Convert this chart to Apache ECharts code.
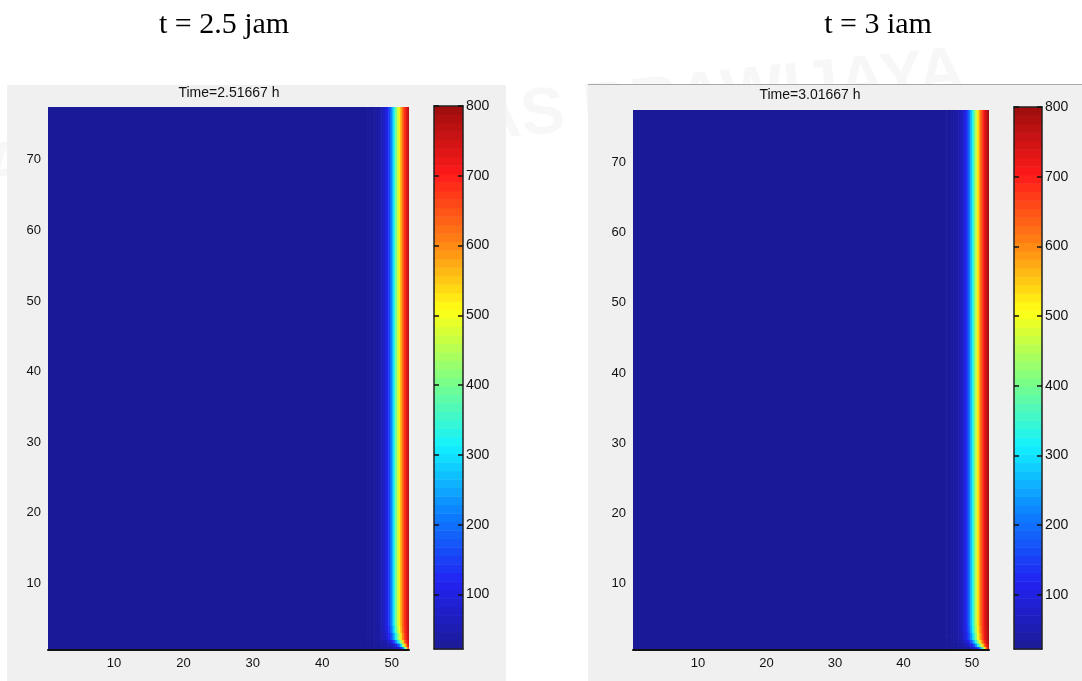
<!DOCTYPE html>
<html>
<head>
<meta charset="utf-8">
<script src="https://cdn.jsdelivr.net/npm/echarts@6/dist/echarts.min.js"></script>
<style>
  html, body { margin: 0; padding: 0; background: #fff; }
  #chart { width: 1082px; height: 681px; }
</style>
</head>
<body>
<div id="chart"></div>
<script>
// grid extent (cell centres 1..52 and 1..77)
const xMin = 0.5, xMax = 52.5, yMin = 0.5, yMax = 77.5;

// fine columns near the hot wall, left edge of each column
const xCols = [46, 46.25, 46.5, 46.75, 47, 47.25, 47.5, 47.75, 48, 48.25, 48.5, 48.75, 49,
  49.25, 49.5, 49.75, 50, 50.25, 50.5, 50.75, 51, 51.25, 51.5, 51.75, 52, 52.25];
const colWidth = 0.25;
// horizontal bands, bottom to top
const yBands = [[0.5, 1], [1, 1.5], [1.5, 2], [2, 3], [3, 4], [4, 77.5]];

// value of the cold region left of the strip
const baseValues = [24, 25];

// t = 2.5 jam, rows follow yBands
const field1 = [
  [24, 24, 24, 24, 25, 25, 25, 26, 26, 27, 28, 29, 30, 32, 34, 37, 40, 48, 58, 72, 90, 130, 200, 330, 480, 650],
  [24, 24, 24, 25, 25, 26, 26, 27, 28, 30, 32, 35, 38, 42, 48, 56, 66, 80, 105, 150, 210, 300, 420, 530, 620, 720],
  [24, 24, 25, 25, 26, 27, 28, 30, 32, 35, 39, 45, 52, 62, 76, 95, 125, 170, 230, 300, 370, 450, 540, 620, 690, 750],
  [24, 25, 25, 26, 27, 28, 30, 33, 37, 42, 50, 60, 74, 92, 118, 155, 205, 265, 330, 400, 465, 535, 600, 660, 710, 765],
  [24, 25, 26, 27, 28, 30, 32, 35, 39, 46, 55, 68, 85, 108, 140, 185, 240, 310, 380, 445, 505, 570, 625, 675, 720, 770],
  [24, 25, 26, 27, 28, 30, 32, 35, 40, 48, 58, 72, 90, 115, 150, 200, 260, 330, 400, 460, 520, 580, 630, 680, 720, 770]
];
// t = 3 jam
const field2 = [
  [25, 25, 25, 26, 26, 27, 27, 28, 29, 30, 32, 34, 37, 41, 47, 55, 66, 82, 105, 145, 200, 280, 390, 510, 630, 740],
  [25, 25, 26, 26, 27, 28, 29, 31, 33, 36, 40, 46, 54, 65, 80, 100, 130, 175, 235, 310, 390, 470, 550, 630, 700, 765],
  [25, 26, 26, 27, 28, 30, 32, 35, 39, 45, 53, 64, 80, 100, 130, 170, 220, 285, 355, 425, 500, 570, 635, 690, 740, 780],
  [25, 26, 27, 28, 29, 32, 35, 39, 45, 54, 66, 82, 104, 135, 175, 228, 290, 355, 420, 490, 555, 615, 670, 712, 752, 785],
  [25, 26, 27, 28, 30, 33, 36, 41, 48, 58, 71, 89, 113, 148, 195, 255, 320, 385, 450, 515, 575, 632, 680, 720, 757, 788],
  [25, 26, 27, 28, 30, 33, 37, 42, 50, 60, 74, 92, 118, 155, 205, 265, 330, 395, 460, 525, 585, 640, 685, 725, 760, 790]
];

const headTexts = ['t = 2.5 jam', 't = 3 iam'];
const panelTitles = ['Time=2.51667 h', 'Time=3.01667 h'];
const xTicks = [10, 20, 30, 40, 50];
const yTicks = [10, 20, 30, 40, 50, 60, 70];
const cbTicks = [100, 200, 300, 400, 500, 600, 700, 800];
const cbMin = 22, cbMax = 800;
const cbSteps = 64;

// jet colormap
const jetStops = ['#1a1a96', '#2222f2', '#0c80ff', '#12f2ff', '#82ff80', '#ffff14', '#ff8214', '#ff1a1a', '#9c0d0d'];
function hexRgb(h) {
  return [parseInt(h.substr(1, 2), 16), parseInt(h.substr(3, 2), 16), parseInt(h.substr(5, 2), 16)];
}
const jetRgb = jetStops.map(hexRgb);
function jet(v) {
  let f = (v - cbMin) / (cbMax - cbMin);
  f = Math.max(0, Math.min(1, f)) * (jetRgb.length - 1);
  const i = Math.min(Math.floor(f), jetRgb.length - 2);
  const t = f - i;
  const a = jetRgb[i], b = jetRgb[i + 1];
  const c = a.map((x, k) => Math.round(x + (b[k] - x) * t));
  return 'rgb(' + c.join(',') + ')';
}

function buildCells(field, base) {
  const cells = [[xMin, xCols[0], yMin, yMax, base]];
  field.forEach((row, r) => {
    row.forEach((v, i) => {
      cells.push([xCols[i], xCols[i] + colWidth, yBands[r][0], yBands[r][1], v]);
    });
  });
  return cells;
}

function cellItem(params, api) {
  const a = api.coord([api.value(0), api.value(3)]);
  const b = api.coord([api.value(1), api.value(2)]);
  const edge = api.coord([xMax, yMin]);
  const right = Math.min(b[0] + 0.6, edge[0]);
  const bottom = Math.min(b[1] + 0.6, edge[1]);
  return {
    type: 'rect',
    shape: { x: a[0], y: a[1], width: right - a[0], height: bottom - a[1] },
    style: { fill: jet(api.value(4)) }
  };
}

const cbLevels = [];
for (let k = 0; k < cbSteps; k++) {
  const lo = cbMin + k * (cbMax - cbMin) / cbSteps;
  const hi = cbMin + (k + 1) * (cbMax - cbMin) / cbSteps;
  cbLevels.push([lo, hi, (lo + hi) / 2]);
}

function barItem(params, api) {
  const a = api.coord([0, api.value(1)]);
  const b = api.coord([1, api.value(0)]);
  return {
    type: 'rect',
    shape: { x: a[0], y: a[1], width: b[0] - a[0], height: b[1] - a[1] + 0.5 },
    style: { fill: jet(api.value(2)) }
  };
}

const labelFont = { color: '#111', fontFamily: 'Liberation Sans, Arial, sans-serif', fontSize: 13 };

function plotX(grid) {
  return {
    type: 'value', gridIndex: grid, min: xMin, max: xMax, z: 10,
    axisLine: { show: true, lineStyle: { color: '#111', width: 2 } },
    axisTick: { show: false },
    splitLine: { show: false },
    axisLabel: Object.assign({ customValues: xTicks, margin: 7 }, labelFont)
  };
}
function plotY(grid) {
  return {
    type: 'value', gridIndex: grid, min: yMin, max: yMax, z: 10,
    axisLine: { show: false },
    axisTick: { show: false },
    splitLine: { show: false },
    axisLabel: Object.assign({ customValues: yTicks, margin: 7 }, labelFont)
  };
}
function cbX(grid, pos) {
  return {
    type: 'value', gridIndex: grid, min: 0, max: 1, position: pos, z: 10,
    axisLine: { show: true, onZero: false, lineStyle: { color: '#222', width: 1.5 } },
    axisTick: { show: false }, axisLabel: { show: false }, splitLine: { show: false }
  };
}
function cbY(grid, pos, labels) {
  return {
    type: 'value', gridIndex: grid, min: cbMin, max: cbMax, position: pos, z: 10,
    axisLine: { show: true, onZero: false, lineStyle: { color: '#222', width: 1.5 } },
    axisTick: { show: true, inside: true, length: 5, customValues: cbTicks, lineStyle: { color: '#111', width: 1.5 } },
    splitLine: { show: false },
    axisLabel: { show: labels, customValues: cbTicks, margin: 3, color: '#111',
      fontFamily: 'Liberation Sans, Arial, sans-serif', fontSize: 14 }
  };
}

const chart = echarts.init(document.getElementById('chart'));
chart.setOption({
  animation: false,
  backgroundColor: '#fff',
  graphic: [
    { type: 'text', left: -20, top: 40, rotation: 0.1, z: -10, silent: true,
      style: { text: 'AYA UNIVERSITAS BRAWIJAYA', fill: 'rgba(0,0,0,0.03)',
        font: 'bold 66px Liberation Sans, Arial, sans-serif' } },
    { type: 'rect', shape: { x: 7, y: 85, width: 499, height: 596 }, z: -5,
      style: { fill: '#f0f0f0' } },
    { type: 'rect', shape: { x: 588, y: 84, width: 494, height: 597 }, z: -5,
      style: { fill: '#f0f0f0' } },
    { type: 'line', shape: { x1: 588, y1: 84.5, x2: 1082, y2: 84.5 }, z: -4,
      style: { stroke: '#a8a8a8', lineWidth: 1 } },
    { type: 'text', x: 224, y: 25, z: 5,
      style: { text: headTexts[0], fill: '#000', font: '30px Liberation Serif, Times New Roman, serif',
        textAlign: 'center', textVerticalAlign: 'middle' } },
    { type: 'text', x: 878, y: 25, z: 5,
      style: { text: headTexts[1], fill: '#000', font: '30px Liberation Serif, Times New Roman, serif',
        textAlign: 'center', textVerticalAlign: 'middle' } },
    { type: 'text', x: 229, y: 93, z: 5,
      style: { text: panelTitles[0], fill: '#111', font: '14px Liberation Sans, Arial, sans-serif',
        textAlign: 'center', textVerticalAlign: 'middle' } },
    { type: 'text', x: 810, y: 95, z: 5,
      style: { text: panelTitles[1], fill: '#111', font: '14px Liberation Sans, Arial, sans-serif',
        textAlign: 'center', textVerticalAlign: 'middle' } }
  ],
  grid: [
    { left: 48, top: 107, width: 361, height: 543 },
    { left: 434, top: 106, width: 29, height: 543 },
    { left: 633, top: 110, width: 356, height: 540 },
    { left: 1014, top: 107, width: 28, height: 542 }
  ],
  xAxis: [plotX(0), cbX(1, 'bottom'), cbX(1, 'top'), plotX(2), cbX(3, 'bottom'), cbX(3, 'top')],
  yAxis: [plotY(0), cbY(1, 'right', true), cbY(1, 'left', false), plotY(2), cbY(3, 'right', true), cbY(3, 'left', false)],
  series: [
    { type: 'custom', name: 't2.5', xAxisIndex: 0, yAxisIndex: 0, renderItem: cellItem,
      encode: { x: [0, 1], y: [2, 3] }, data: buildCells(field1, baseValues[0]) },
    { type: 'custom', name: 'cb1', xAxisIndex: 1, yAxisIndex: 1, renderItem: barItem,
      encode: { y: [0, 1] }, data: cbLevels },
    { type: 'custom', name: 't3', xAxisIndex: 3, yAxisIndex: 3, renderItem: cellItem,
      encode: { x: [0, 1], y: [2, 3] }, data: buildCells(field2, baseValues[1]) },
    { type: 'custom', name: 'cb2', xAxisIndex: 4, yAxisIndex: 4, renderItem: barItem,
      encode: { y: [0, 1] }, data: cbLevels }
  ]
});
</script>
</body>
</html>
